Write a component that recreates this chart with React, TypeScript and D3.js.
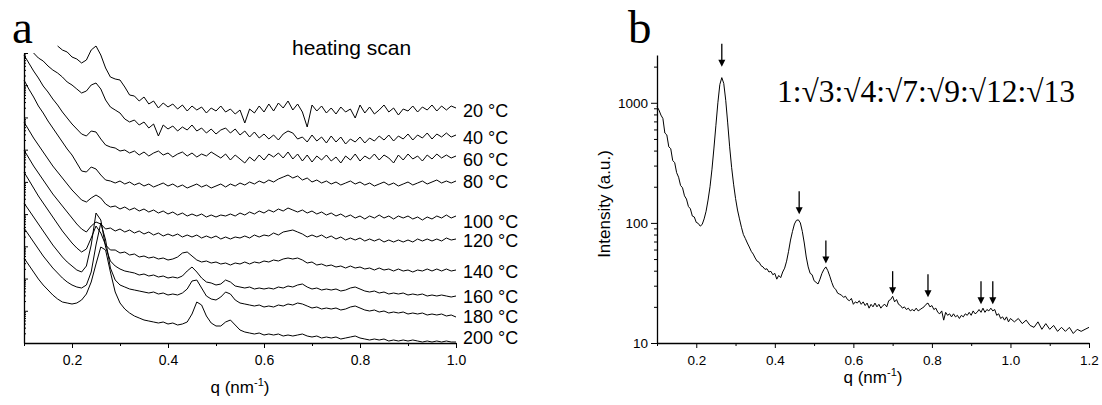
import React, { useEffect, useRef } from "react";
import * as d3 from "d3";

const W = 1102;
const H = 405;
const SANS = '"Liberation Sans", Arial, sans-serif';
const SERIF = '"Liberation Serif", "Times New Roman", serif';

// ---- panel a: heating scan, log intensity shifted for clarity (arb. units) ----
const qA = [
  0.10, 0.11, 0.12, 0.13, 0.14, 0.15, 0.16, 0.17, 0.18, 0.19,
  0.20, 0.21, 0.22, 0.23, 0.24, 0.25, 0.26, 0.27, 0.28, 0.29,
  0.30, 0.31, 0.32, 0.33, 0.34, 0.35, 0.36, 0.37, 0.38, 0.39,
  0.40, 0.41, 0.42, 0.43, 0.44, 0.45, 0.46, 0.47, 0.48, 0.49,
  0.50, 0.51, 0.52, 0.53, 0.54, 0.55, 0.56, 0.57, 0.58, 0.59,
  0.60, 0.61, 0.62, 0.63, 0.64, 0.65, 0.66, 0.67, 0.68, 0.69,
  0.70, 0.71, 0.72, 0.73, 0.74, 0.75, 0.76, 0.77, 0.78, 0.79,
  0.80, 0.81, 0.82, 0.83, 0.84, 0.85, 0.86, 0.87, 0.88, 0.89,
  0.90, 0.91, 0.92, 0.93, 0.94, 0.95, 0.96, 0.97, 0.98, 0.99,
  1.00,
];

const t20 = [
  null, null, null, null, null, null, null, 29.7, 29.3, 29.1,
  28.6, 28.4, 28.0, 28.3, 29.3, 29.7, 28.8, 27.5, 26.6, 26.4,
  26.3, 25.6, 24.8, 24.7, 24.2, 24.6, 23.9, 24.2, 23.5, 24.0,
  23.6, 23.9, 23.4, 23.8, 23.2, 23.7, 23.3, 23.6, 23.0, 23.5,
  23.2, 23.7, 23.1, 23.4, 22.9, 23.3, 22.0, 23.4, 23.0, 23.7,
  23.1, 23.9, 23.2, 24.0, 23.5, 24.2, 23.3, 23.9, 23.1, 21.6,
  23.8, 23.2, 23.7, 23.0, 23.5, 22.9, 23.6, 23.1, 23.4, 22.5,
  23.8, 23.0, 23.6, 22.9, 23.3, 23.8, 23.1, 23.5, 22.8, 23.4,
  23.2, 23.7, 23.1, 23.6, 23.3, 23.8, 23.2, 23.7, 23.3, 23.7,
  23.5,
];
const t40 = [
  null, null, 29.0, 28.5, 28.2, 27.7, 27.3, 27.0, 26.6, 26.1,
  25.8, 25.4, 25.0, 25.2, 25.8, 26.0, 25.4, 24.3, 23.6, 23.3,
  23.0, 22.4, 22.1, 22.3, 21.8, 22.1, 21.5, 21.9, 20.7, 21.8,
  21.4, 21.7, 21.2, 21.6, 21.3, 21.8, 21.2, 21.5, 21.0, 21.4,
  20.9, 21.3, 21.5, 21.0, 21.4, 20.8, 21.2, 20.6, 21.1, 20.5,
  20.9, 20.4, 20.8, 20.3, 20.9, 21.2, 21.0, 20.4, 20.6, 20.1,
  20.8, 20.2, 20.6, 20.0, 20.7, 20.1, 20.6, 19.9, 20.4, 20.1,
  20.6, 20.0, 20.5, 20.2, 20.7, 20.3, 20.8, 20.2, 20.7, 20.4,
  20.9, 20.3, 20.8, 20.5, 21.0, 20.4, 20.9, 20.6, 21.0, 20.6,
  20.8,
];
const t60 = [
  28.8, 28.0, 27.2, 26.5, 25.7, 25.1, 24.4, 23.8, 23.1, 22.5,
  21.9, 21.4, 20.9, 20.7, 21.2, 21.1, 20.4, 19.8, 19.6, 19.5,
  19.2, 19.3, 19.0, 19.2, 18.8, 19.1, 18.7, 19.0, 19.2, 18.8,
  19.0, 18.6, 18.9, 19.1, 18.7, 19.0, 18.6, 18.9, 18.7, 19.1,
  18.8, 18.5, 18.9, 18.3, 18.8, 18.4, 18.0, 18.6, 18.2, 18.8,
  18.3, 18.9, 18.6, 19.0, 18.5, 19.1, 18.4, 18.9, 18.2, 18.8,
  18.1, 18.7, 18.3, 18.8, 18.2, 18.6, 18.0, 18.7, 18.3, 18.9,
  18.2, 18.7, 18.4, 18.9, 18.3, 18.8, 18.5, 18.0, 18.8, 18.3,
  18.9, 18.4, 18.7, 18.2, 18.8, 18.4, 18.9, 18.5, 18.8, 18.5,
  18.7,
];
const t80 = [
  26.3, 25.4, 24.6, 23.7, 23.0, 22.2, 21.5, 20.8, 20.1, 19.4,
  18.8, 18.0, 17.2, 17.1, 17.6, 17.4, 16.8, 16.3, 16.2, 16.0,
  16.2, 15.9, 16.1, 15.8, 16.0, 15.7, 15.9, 15.6, 15.8, 16.0,
  15.7, 15.9, 15.6, 15.8, 15.5, 15.7, 15.9, 15.6, 15.8, 15.5,
  15.7, 15.9, 15.6, 15.9, 15.7, 16.0, 15.8, 16.1, 15.9, 16.2,
  16.0, 16.3, 16.1, 16.4, 16.6, 16.8, 16.5, 16.7, 16.3, 16.5,
  16.1, 16.3, 16.0, 16.2, 15.9, 16.1, 15.8, 16.0, 16.2, 15.9,
  16.1, 15.8, 16.0, 15.7, 15.9, 16.1, 15.8, 16.0, 15.7, 15.9,
  16.1, 15.8, 16.0, 16.2, 15.9, 16.1, 16.3, 16.0, 16.2, 16.0,
  16.2,
];
const t100 = [
  22.1, 21.3, 20.5, 19.8, 19.1, 18.4, 17.7, 17.1, 16.5, 15.9,
  15.3, 14.8, 14.3, 14.1, 14.5, 14.8, 14.5, 13.9, 13.6, 13.7,
  13.4, 13.6, 13.3, 13.5, 13.2, 13.4, 13.1, 13.3, 13.0, 13.2,
  12.9, 13.1, 12.8, 13.0, 12.7, 12.9, 12.7, 12.9, 12.6, 12.8,
  12.6, 12.8, 12.7, 12.9, 12.7, 13.0, 12.8, 13.1, 12.9, 13.2,
  13.0, 13.3, 13.1, 13.4, 13.2, 13.5, 13.3, 13.1, 13.3, 13.0,
  13.2, 12.9, 13.1, 12.8, 13.0, 12.7, 12.9, 12.6, 12.8, 12.5,
  12.7, 12.4, 12.7, 12.5, 12.8, 12.5, 12.7, 12.4, 12.7, 12.5,
  12.7, 12.4, 12.6, 12.3, 12.6, 12.4, 12.7, 12.5, 12.8, 12.5,
  12.7,
];
const t120 = [
  19.3, 18.5, 17.7, 17.0, 16.3, 15.6, 14.9, 14.3, 13.7, 13.1,
  12.5, 11.9, 11.4, 11.1, 11.7, 12.1, 11.9, 11.4, 11.5, 11.2,
  11.4, 11.1, 11.3, 11.0, 11.2, 10.9, 11.1, 10.8, 11.0, 10.7,
  10.9, 10.7, 10.9, 10.6, 10.8, 10.6, 10.8, 10.5, 10.7, 10.5,
  10.7, 10.4, 10.6, 10.4, 10.6, 10.5, 10.7, 10.5, 10.8, 10.6,
  10.8, 10.7, 11.0, 10.8, 11.1, 11.2, 11.3, 11.1, 10.9, 10.6,
  10.8, 10.6, 10.8, 10.5, 10.7, 10.4, 10.6, 10.3, 10.5, 10.3,
  10.5, 10.2, 10.4, 10.2, 10.4, 10.1, 10.3, 10.1, 10.3, 10.1,
  10.3, 10.1, 10.4, 10.2, 10.4, 10.2, 10.4, 10.2, 10.5, 10.3,
  10.4,
];
const t140 = [
  17.1, 16.3, 15.5, 14.7, 14.0, 13.3, 12.6, 11.9, 11.2, 10.6,
  10.0, 9.5, 9.1, 9.4, 10.5, 11.7, 11.0, 9.8, 9.3, 9.3,
  9.0, 9.1, 8.8, 8.9, 8.6, 8.7, 8.5, 8.6, 8.4, 8.5,
  8.3, 8.4, 8.6, 9.0, 9.1, 8.7, 8.3, 8.1, 8.2, 8.0,
  8.1, 7.9, 8.0, 7.8, 8.0, 7.9, 8.1, 7.9, 8.1, 8.0,
  8.2, 8.1, 8.3, 8.2, 8.4, 8.5, 8.4, 8.5, 8.3, 8.0,
  8.1, 7.8, 7.9, 7.7, 7.8, 7.6, 7.7, 7.5, 7.7, 7.5,
  7.6, 7.4, 7.5, 7.3, 7.5, 7.3, 7.4, 7.2, 7.4, 7.2,
  7.3, 7.1, 7.3, 7.2, 7.4, 7.2, 7.4, 7.2, 7.4, 7.2,
  7.3,
];
const t160 = [
  14.0, 13.3, 12.6, 11.9, 11.2, 10.5, 9.8, 9.2, 8.6, 8.1,
  7.7, 7.3, 7.1, 7.7, 9.8, 13.0, 12.3, 9.6, 8.2, 7.7,
  7.4, 7.2, 7.1, 7.0, 6.8, 6.9, 6.7, 6.8, 6.6, 6.7,
  6.5, 6.6, 6.5, 6.7, 7.2, 7.6, 7.1, 6.5, 6.1, 6.0,
  5.8, 5.9, 6.3, 6.1, 5.7, 5.6, 5.5, 5.6, 5.4, 5.5,
  5.4, 5.5, 5.4, 5.6, 5.5, 5.7, 5.6, 5.8, 5.9, 5.6,
  5.4, 5.5, 5.3, 5.4, 5.3, 5.4, 5.2, 5.3, 5.5, 5.6,
  5.4, 5.2, 5.1, 5.2, 5.0, 5.1, 4.9, 5.0, 4.9, 5.0,
  4.8, 4.9, 4.8, 4.9, 4.7, 4.8, 4.7, 4.8, 4.7, 4.6,
  4.7,
];
const t180 = [
  11.5, 10.8, 10.1, 9.4, 8.7, 8.1, 7.5, 7.0, 6.5, 6.1,
  5.8, 5.6, 5.5, 5.8, 7.1, 9.8, 12.0, 10.3, 7.5, 6.3,
  5.8, 5.6, 5.4, 5.3, 5.2, 5.1, 5.0, 5.1, 4.9, 5.0,
  4.8, 4.9, 4.8, 5.0, 5.4, 6.2, 6.3, 5.5, 4.7, 4.4,
  4.3, 4.6, 5.1, 4.9, 4.3, 4.0, 3.9, 3.8, 3.7, 3.8,
  3.6, 3.7, 3.6, 3.8, 3.7, 3.9, 3.8, 4.0, 3.9, 3.7,
  3.5, 3.6, 3.4, 3.5, 3.4, 3.5, 3.3, 3.4, 3.6, 3.7,
  3.5, 3.3, 3.2, 3.3, 3.1, 3.2, 3.0, 3.1, 3.0, 3.1,
  2.9, 3.0, 2.9, 3.0, 2.8, 2.9, 2.8, 2.9, 2.7, 2.8,
  2.6,
];
const t200 = [
  8.5, 7.8, 7.1, 6.4, 5.8, 5.3, 4.8, 4.4, 4.1, 4.0,
  3.9, 4.0, 4.3, 4.9, 6.1, 7.9, 9.6, 9.3, 7.1, 5.1,
  4.0, 3.4, 3.0, 2.7, 2.5, 2.3, 2.2, 2.1, 2.0, 2.1,
  1.9, 2.0, 1.8, 1.9, 2.1, 2.9, 4.1, 3.8, 2.7, 2.0,
  1.7, 1.7, 2.1, 2.3, 1.8, 1.3, 1.1, 1.0, 0.9, 1.0,
  0.8, 0.9, 0.8, 0.9, 0.7, 0.8, 0.7, 0.8, 0.9, 0.7,
  0.6, 0.7, 0.5, 0.6, 0.5, 0.6, 0.4, 0.5, 0.6, 0.7,
  0.5, 0.4, 0.3, 0.4, 0.3, 0.4, 0.2, 0.3, 0.2, 0.3,
  0.2, 0.3, 0.2, 0.1, 0.2, 0.1, 0.2, 0.1, 0.2, 0.1,
  0.1,
];

const scansA = [t20, t40, t60, t80, t100, t120, t140, t160, t180, t200];
const tempLabels = ["20 °C", "40 °C", "60 °C", "80 °C", "100 °C", "120 °C", "140 °C", "160 °C", "180 °C", "200 °C"];
const tempLabelLevel = [23.3, 20.6, 18.4, 16.2, 12.2, 10.3, 7.2, 4.7, 2.7, 0.6];

const xMajorA = [0.2, 0.4, 0.6, 0.8, 1.0];
const xMinorA = [0.1, 0.3, 0.5, 0.7, 0.9];

// ---- panel b: q (nm^-1), intensity (a.u.) ----
const scanB: [number, number][] = [
  [0.100, 930], [0.105, 870], [0.110, 790], [0.115, 740], [0.120, 560], [0.125, 540],
  [0.130, 430], [0.135, 415], [0.140, 330], [0.145, 318], [0.150, 262], [0.155, 240],
  [0.160, 205], [0.165, 196], [0.170, 168], [0.175, 158], [0.180, 137], [0.185, 131],
  [0.190, 114], [0.195, 112], [0.200, 101], [0.205, 99], [0.210, 94], [0.215, 97],
  [0.220, 108], [0.225, 125], [0.230, 155], [0.235, 200], [0.240, 280], [0.245, 420],
  [0.250, 650], [0.255, 1000], [0.260, 1420], [0.265, 1620], [0.270, 1450], [0.275, 1050],
  [0.280, 680], [0.285, 430], [0.290, 290], [0.295, 210], [0.300, 160], [0.305, 128],
  [0.310, 108], [0.315, 92], [0.320, 80], [0.325, 74], [0.330, 68], [0.335, 63],
  [0.340, 58], [0.345, 55], [0.350, 51], [0.355, 48], [0.360, 47], [0.365, 44],
  [0.370, 43], [0.375, 41], [0.380, 41.5], [0.385, 39], [0.390, 39.5], [0.395, 37],
  [0.400, 38], [0.405, 34], [0.410, 36.5], [0.415, 35], [0.420, 39], [0.425, 42],
  [0.430, 48], [0.435, 58], [0.440, 72], [0.445, 85], [0.450, 98], [0.455, 105],
  [0.460, 106], [0.465, 100], [0.470, 85], [0.475, 68], [0.480, 52], [0.485, 43],
  [0.490, 38], [0.495, 37], [0.500, 33], [0.505, 32], [0.510, 31], [0.515, 34],
  [0.520, 38], [0.525, 41], [0.530, 43], [0.535, 40], [0.540, 36], [0.545, 32],
  [0.550, 29], [0.555, 28], [0.560, 26], [0.565, 25.5], [0.570, 25], [0.575, 24],
  [0.580, 24.5], [0.585, 23], [0.590, 22.5], [0.595, 23.5], [0.600, 21], [0.605, 22],
  [0.610, 21.5], [0.615, 22.5], [0.620, 21], [0.625, 22], [0.630, 20.5], [0.635, 21.5],
  [0.640, 19.5], [0.645, 21], [0.650, 20], [0.655, 21.5], [0.660, 20], [0.665, 21],
  [0.670, 19.5], [0.675, 20.5], [0.680, 21], [0.685, 20], [0.690, 22.5], [0.695, 23],
  [0.700, 24.5], [0.705, 22], [0.710, 23], [0.715, 21], [0.720, 20.5], [0.725, 19.5],
  [0.730, 20], [0.735, 19], [0.740, 19.5], [0.745, 18.5], [0.750, 19], [0.755, 18.5],
  [0.760, 19.5], [0.765, 18.5], [0.770, 19], [0.775, 19.5], [0.780, 20], [0.785, 21],
  [0.790, 21.5], [0.795, 20], [0.800, 20.5], [0.805, 19], [0.810, 19.5], [0.815, 18],
  [0.820, 17.5], [0.825, 18.5], [0.830, 15.5], [0.835, 18], [0.840, 17], [0.845, 17.5],
  [0.850, 16.5], [0.855, 17.5], [0.860, 16.5], [0.865, 17], [0.870, 16], [0.875, 17],
  [0.880, 16.5], [0.885, 17.5], [0.890, 17], [0.895, 18], [0.900, 17], [0.905, 18.5],
  [0.910, 17.5], [0.915, 18], [0.920, 19], [0.925, 18], [0.930, 19.5], [0.935, 18],
  [0.940, 19], [0.945, 18.5], [0.950, 19.5], [0.955, 18.5], [0.960, 19], [0.965, 17],
  [0.970, 17.5], [0.975, 16], [0.980, 16.5], [0.985, 15.5], [0.990, 16.5], [0.995, 15],
  [1.000, 16], [1.010, 15], [1.020, 16], [1.030, 14.5], [1.040, 15.5], [1.050, 14],
  [1.060, 13.5], [1.070, 15], [1.080, 13], [1.090, 14.5], [1.100, 13], [1.110, 14],
  [1.120, 12.5], [1.130, 13.5], [1.140, 12.5], [1.150, 13.5], [1.160, 12], [1.170, 13],
  [1.180, 12.5], [1.190, 13], [1.200, 13.5],
];

// peak markers (hexagonal 1:√3:√4:√7:√9:√12:√13)
const arrowQ = [0.265, 0.462, 0.53, 0.70, 0.79, 0.925, 0.955];
const arrowTip = [2000, 118, 46, 25.5, 24, 21, 21];

const xMajorB = [0.2, 0.4, 0.6, 0.8, 1.0, 1.2];
const xMinorB = [0.1, 0.3, 0.5, 0.7, 0.9, 1.1];
const yMajorB = [10, 100, 1000];

export default function App() {
  const ref = useRef<SVGSVGElement>(null);

  useEffect(() => {
    const svg = d3.select(ref.current);
    svg.selectAll("*").remove();

    const styleAxis = (g: any, fontSize: number) => {
      g.select(".domain").attr("stroke", "#000").attr("stroke-width", 1.3);
      g.selectAll(".tick line").attr("stroke", "#000").attr("stroke-width", 1);
      g.selectAll("text").attr("fill", "#000").attr("font-family", SANS).attr("font-size", fontSize);
    };

    // ========== panel a ==========
    const xA = d3.scaleLinear().domain([0.1, 1.0]).range([24, 456]);
    const yA = d3.scaleLinear().domain([0, 29]).range([343, 53]);
    const yAlog = d3.scaleLog().domain([1, 1e9]).range([343, 53]); // tick marks only

    const gA = svg.append("g");

    const gxA = gA.append("g").attr("transform", "translate(0,343)");
    gxA.call(d3.axisBottom(xA).tickValues(xMajorA).tickSize(5).tickSizeOuter(0).tickPadding(7).tickFormat(d3.format(".1f")) as any);
    styleAxis(gxA, 14);
    const gxAm = gA.append("g").attr("transform", "translate(0,343)");
    gxAm.call(d3.axisBottom(xA).tickValues(xMinorA).tickSize(3).tickFormat(() => "") as any);
    gxAm.select(".domain").remove();
    styleAxis(gxAm, 14);

    const logTicks = yAlog.ticks();
    const gyA = gA.append("g").attr("transform", "translate(24,0)");
    gyA.call(d3.axisRight(yAlog).tickValues(logTicks).tickSize(2).tickSizeOuter(0).tickFormat(() => "") as any);
    styleAxis(gyA, 14);
    gyA.selectAll(".tick line")
      .attr("x2", (d: any) => (Math.abs(Math.log10(d) - Math.round(Math.log10(d))) < 1e-6 ? 4 : 2));

    const lineA = d3.line<number | null>()
      .defined((d) => d !== null)
      .x((_, i) => xA(qA[i]))
      .y((d) => yA(d as number));

    gA.append("g")
      .selectAll("path")
      .data(scansA)
      .join("path")
      .attr("d", (d) => lineA(d))
      .attr("fill", "none")
      .attr("stroke", "#000")
      .attr("stroke-width", 1)
      .attr("stroke-linejoin", "round");

    gA.append("g")
      .selectAll("text")
      .data(tempLabels)
      .join("text")
      .attr("x", 463)
      .attr("y", (_, i) => yA(tempLabelLevel[i]) + 6.5)
      .attr("font-family", SANS)
      .attr("font-size", 18)
      .attr("fill", "#000")
      .text((d) => d);

    gA.append("text")
      .attr("x", 292).attr("y", 55)
      .attr("font-family", SANS).attr("font-size", 21)
      .text("heating scan");

    gA.append("text")
      .attr("x", 12).attr("y", 43)
      .attr("font-family", SERIF).attr("font-size", 47)
      .text("a");

    const titleA = gA.append("text")
      .attr("x", 240).attr("y", 393)
      .attr("text-anchor", "middle")
      .attr("font-family", SANS).attr("font-size", 17);
    titleA.append("tspan").text("q (nm");
    titleA.append("tspan").attr("font-size", 11).attr("dy", -7).text("-1");
    titleA.append("tspan").attr("dy", 7).text(")");

    // ========== panel b ==========
    const xB = d3.scaleLinear().domain([0.1, 1.2]).range([657, 1089]);
    const yB = d3.scaleLog().domain([10, 2500]).range([343, 55]);

    const gB = svg.append("g");

    const gxB = gB.append("g").attr("transform", "translate(0,343)");
    gxB.call(d3.axisBottom(xB).tickValues(xMajorB).tickSize(5).tickSizeOuter(0).tickPadding(7).tickFormat(d3.format(".1f")) as any);
    styleAxis(gxB, 13.5);
    const gxBm = gB.append("g").attr("transform", "translate(0,343)");
    gxBm.call(d3.axisBottom(xB).tickValues(xMinorB).tickSize(3).tickFormat(() => "") as any);
    gxBm.select(".domain").remove();
    styleAxis(gxBm, 13.5);

    const gyB = gB.append("g").attr("transform", "translate(657,0)");
    gyB.call(d3.axisLeft(yB).tickValues(yMajorB).tickSize(6).tickSizeOuter(0).tickPadding(3).tickFormat(d3.format("d")) as any);
    styleAxis(gyB, 13.5);
    const gyBm = gB.append("g").attr("transform", "translate(657,0)");
    gyBm.call(d3.axisLeft(yB).tickValues(yB.ticks().filter((t) => !yMajorB.includes(t))).tickSize(3).tickFormat(() => "") as any);
    gyBm.select(".domain").remove();
    styleAxis(gyBm, 13.5);

    const lineB = d3.line<[number, number]>()
      .x((d) => xB(d[0]))
      .y((d) => yB(d[1]));

    gB.append("path")
      .datum(scanB)
      .attr("d", lineB)
      .attr("fill", "none")
      .attr("stroke", "#000")
      .attr("stroke-width", 1)
      .attr("stroke-linejoin", "round");

    // arrows pointing down at the reflections
    const arrowLen = 23;
    const headLen = 7;
    const gArr = gB.append("g");
    arrowQ.forEach((q, i) => {
      const x = xB(q);
      const tip = yB(arrowTip[i]);
      gArr.append("line")
        .attr("x1", x).attr("x2", x)
        .attr("y1", tip - arrowLen).attr("y2", tip - headLen + 1)
        .attr("stroke", "#000").attr("stroke-width", 1.3);
      gArr.append("path")
        .attr("d", `M${x - 3.5},${tip - headLen}L${x + 3.5},${tip - headLen}L${x},${tip}Z`)
        .attr("fill", "#000");
    });

    gB.append("text")
      .attr("x", 628).attr("y", 43)
      .attr("font-family", SERIF).attr("font-size", 47)
      .text("b");

    gB.append("text")
      .attr("x", 777).attr("y", 102)
      .attr("font-family", SERIF).attr("font-size", 31.5)
      .text("1:√3:√4:√7:√9:√12:√13");

    gB.append("text")
      .attr("transform", "translate(610,204) rotate(-90)")
      .attr("text-anchor", "middle")
      .attr("font-family", SANS).attr("font-size", 17)
      .text("Intensity (a.u.)");

    const titleB = gB.append("text")
      .attr("x", 873).attr("y", 383)
      .attr("text-anchor", "middle")
      .attr("font-family", SANS).attr("font-size", 17);
    titleB.append("tspan").text("q (nm");
    titleB.append("tspan").attr("font-size", 11).attr("dy", -7).text("-1");
    titleB.append("tspan").attr("dy", 7).text(")");
  }, []);

  return (
    <svg
      ref={ref}
      width={W}
      height={H}
      style={{ position: "absolute", left: 0, top: 0, background: "#fff" }}
    />
  );
}
